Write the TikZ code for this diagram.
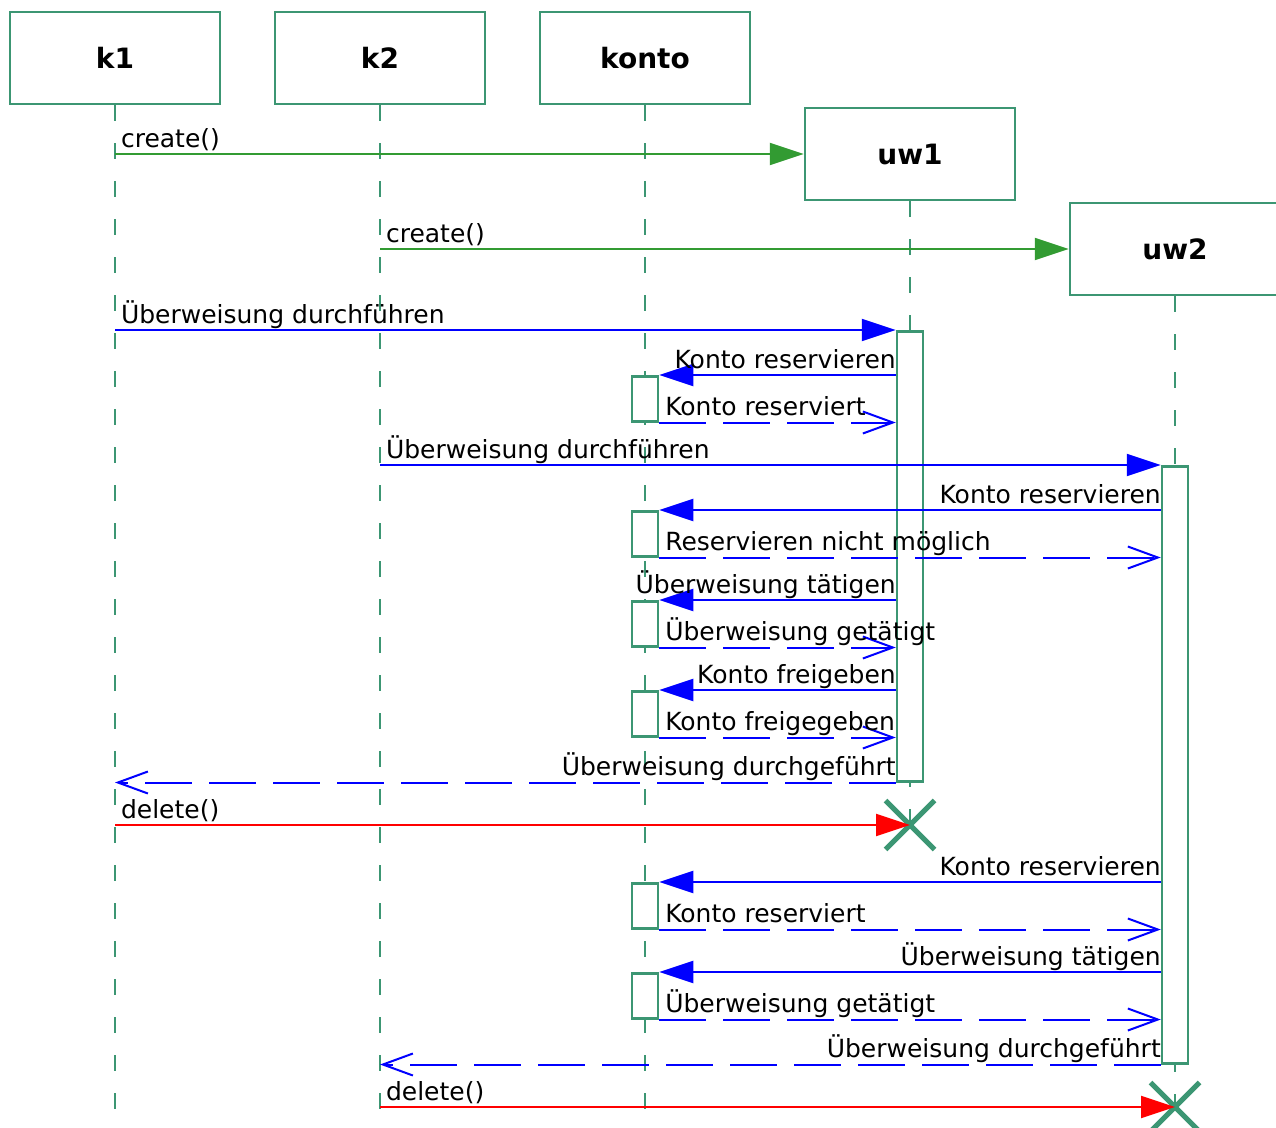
\documentclass[tikz,border=0pt]{standalone}
\usepackage{fontspec}
\setmainfont{DejaVu Sans}
\usetikzlibrary{arrows.meta,shapes.misc,positioning}
\definecolor{umlgreen}{RGB}{60,150,115}
\definecolor{newgreen}{RGB}{50,155,50}
\tikzset{
obj/.style = {rectangle, draw=umlgreen, line width=2.5pt, minimum width=210pt, minimum height=92pt,
inner sep=0pt, font=\fontsize{28}{32}\selectfont\bfseries},% objektkopf
life/.style = {draw=umlgreen, line width=2pt, dash pattern=on 16pt off 22pt},% lebenslinie
akt/.style = {rectangle, draw=umlgreen, fill=white, line width=2.5pt, minimum width=26pt, inner sep=0pt, anchor=north},% aktivierung
destroy/.style = {cross out, draw=umlgreen, line width=5pt, minimum size=44pt, inner sep=0pt},% objekt geloescht
anymsg/.style = {line width=2pt, -{Triangle[length=34pt,width=22pt]}},
callmsg/.style = {anymsg, blue},% aufruf
newmsg/.style = {anymsg, newgreen},% create()
delmsg/.style = {anymsg, red},% delete()
retmsg/.style = {blue, line width=2pt, dash pattern=on 47pt off 17pt, -{Straight Barb[length=30pt,width=22pt]}},% antwort
lbl/.style = {pos=0, anchor=base west, xshift=5pt, yshift=7pt, inner sep=0pt, black, font=\fontsize{25}{30}\selectfont},
lblr/.style = {lbl, anchor=base east, xshift=-4pt}
}
\begin{document}
\begin{tikzpicture}[x=1pt,y=-1pt]
  \useasboundingbox (0,0) rectangle (1276,1127);
  \coordinate (unten) at (0,1127);
  \node [obj] (k1) at (115,58) {k1};
  \node [obj] (k2) at (380,58) {k2};
  \node [obj] (konto) at (645,58) {konto};
  \node [obj] (uw1) at (910,154) {uw1};
  \node [obj] (uw2) at (1175,249) {uw2};
  % lebenslinien
  \draw [life] (k1) -- (k1 |- unten);
  \draw [life] (k2) -- (k2 |- unten);
  \draw [life] (konto) -- (konto |- unten);
  \draw [life] (uw1) -- (910,845);
  \draw [life] (uw2) -- (uw2 |- unten);
  % aktivierungen
  \node [akt, minimum height=450pt] (a1) at (910,330) {};
  \node [akt, minimum height=597pt] (a2) at (1175,465) {};
  \foreach \n/\y in {1/375,2/510,3/600,4/690,5/882,6/972}
    \node [akt, minimum height=45pt] (c\n) at (645,\y) {};
  % nachrichten
  \draw [newmsg] (k1 |- uw1.west) -- (uw1.west) node [lbl] {create()};
  \draw [newmsg] (k2 |- uw2.west) -- (uw2.west) node [lbl] {create()};
  \draw [callmsg] (k1 |- a1.north) -- (a1.north west) node [lbl] {Überweisung durchführen};
  \draw [callmsg] (a1.west |- c1.north) -- (c1.north east) node [lblr] {Konto reservieren};
  \draw [retmsg] (c1.south east) -- (a1.west |- c1.south) node [lbl] {Konto reserviert};
  \draw [callmsg] (k2 |- a2.north) -- (a2.north west) node [lbl] {Überweisung durchführen};
  \draw [callmsg] (a2.west |- c2.north) -- (c2.north east) node [lblr] {Konto reservieren};
  \draw [retmsg] (c2.south east) -- (a2.west |- c2.south) node [lbl] {Reservieren nicht möglich};
  \draw [callmsg] (a1.west |- c3.north) -- (c3.north east) node [lblr] {Überweisung tätigen};
  \draw [retmsg] (c3.south east) -- (a1.west |- c3.south) node [lbl] {Überweisung getätigt};
  \draw [callmsg] (a1.west |- c4.north) -- (c4.north east) node [lblr] {Konto freigeben};
  \draw [retmsg] (c4.south east) -- (a1.west |- c4.south) node [lbl] {Konto freigegeben};
  \draw [retmsg] (a1.south west) -- (k1 |- a1.south) node [lblr] {Überweisung durchgeführt};
  \node [destroy] (x1) at (910,825) {};
  \draw [delmsg] (k1 |- x1) -- (x1.center) node [lbl] {delete()};
  \draw [callmsg] (a2.west |- c5.north) -- (c5.north east) node [lblr] {Konto reservieren};
  \draw [retmsg] (c5.south east) -- (a2.west |- c5.south) node [lbl] {Konto reserviert};
  \draw [callmsg] (a2.west |- c6.north) -- (c6.north east) node [lblr] {Überweisung tätigen};
  \draw [retmsg] (c6.south east) -- (a2.west |- c6.south) node [lbl] {Überweisung getätigt};
  \draw [retmsg] (a2.south west) -- (k2 |- a2.south) node [lblr] {Überweisung durchgeführt};
  \node [destroy] (x2) at (1175,1107) {};
  \draw [delmsg] (k2 |- x2) -- (x2.center) node [lbl] {delete()};
\end{tikzpicture}
\end{document}
